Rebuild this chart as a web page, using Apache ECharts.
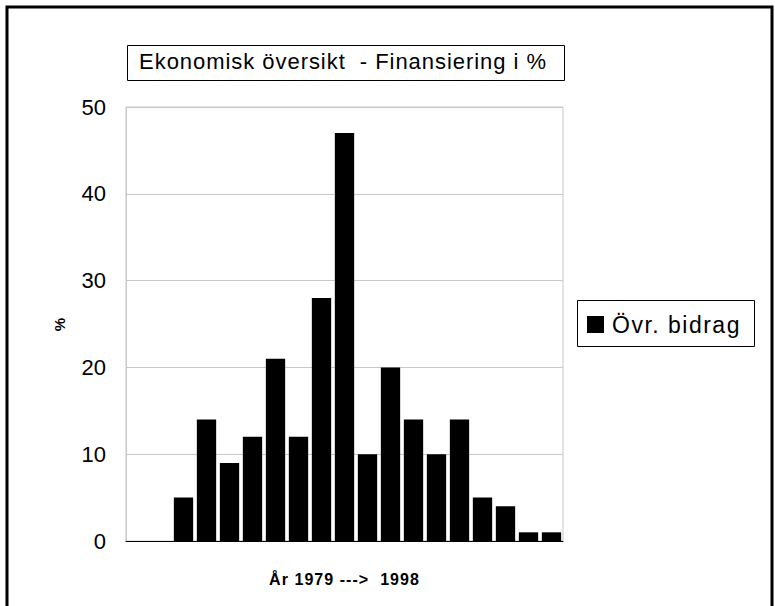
<!DOCTYPE html>
<html>
<head>
<meta charset="utf-8">
<script src="https://cdn.jsdelivr.net/npm/echarts@6/dist/echarts.min.js"></script>
<style>
html,body{margin:0;padding:0;background:#fff}
#c{width:775px;height:606px}
#c svg text{letter-spacing:0.065em}
#c svg text[style*="22px"]{letter-spacing:0.95px}
#c svg text[text-anchor="end"]{letter-spacing:0}
</style>
</head>
<body>
<div id="c"></div>
<script>
const categories = ['1979','1980','1981','1982','1983','1984','1985','1986','1987','1988','1989','1990','1991','1992','1993','1994','1995','1996','1997'];
const values = [0,0,5,14,9,12,21,12,28,47,10,20,14,10,14,5,4,1,1];
const yTicks = { min: 0, max: 50, interval: 10 };
const seriesName = 'Övr. bidrag';
const titleText = 'Ekonomisk översikt  - Finansiering i %';
const xName = 'År 1979 --->  1998';
const yName = '%';

const chart = echarts.init(document.getElementById('c'), null, {renderer: 'svg'});
const F = 'Liberation Sans, Arial, sans-serif';
chart.setOption({
  animation: false,
  backgroundColor: '#fff',
  graphic: [
    {type: 'rect', shape: {x: 7, y: 7, width: 765, height: 610}, style: {fill: 'none', stroke: '#000', lineWidth: 3}, z: 100},
    {type: 'rect', shape: {x: 127.5, y: 45.5, width: 437, height: 35}, style: {fill: '#fff', stroke: '#000', lineWidth: 1}},
    {type: 'text', x: 343, y: 61, style: {text: titleText, font: '22px ' + F, fill: '#000', textAlign: 'center', textVerticalAlign: 'middle'}},
    {type: 'rect', shape: {x: 577.5, y: 300.5, width: 177, height: 46}, style: {fill: '#fff', stroke: '#000', lineWidth: 1}}
  ],
  legend: {
    left: 587, top: 313, itemWidth: 17, itemHeight: 17, itemGap: 0, padding: 0,
    textStyle: {fontFamily: F, fontSize: 23, color: '#000', padding: [0,0,0,3]},
    data: [{name: seriesName, icon: 'rect'}]
  },
  grid: {left: 126, right: 212, top: 107, bottom: 65, show: true, borderColor: '#c8c8c8', borderWidth: 1},
  xAxis: {
    type: 'category', data: categories,
    name: xName, nameLocation: 'middle', nameGap: 30,
    nameTextStyle: {fontFamily: F, fontSize: 16, fontWeight: 'bold', color: '#000'},
    axisLine: {lineStyle: {color: '#000', width: 1}},
    axisTick: {show: false}, axisLabel: {show: false}
  },
  yAxis: {
    type: 'value', min: yTicks.min, max: yTicks.max, interval: yTicks.interval,
    name: yName, nameLocation: 'middle', nameGap: 59, nameRotate: 90,
    nameTextStyle: {fontFamily: F, fontSize: 15, fontWeight: 'bold', color: '#000'},
    axisLine: {show: true, lineStyle: {color: '#c8c8c8'}},
    axisTick: {show: false},
    axisLabel: {fontFamily: F, fontSize: 22, color: '#000', margin: 20},
    splitLine: {lineStyle: {color: '#c8c8c8', width: 1}}
  },
  series: [{
    name: seriesName, type: 'bar', data: values, barCategoryGap: '16%',
    itemStyle: {color: '#000'}
  }]
});
</script>
</body>
</html>
